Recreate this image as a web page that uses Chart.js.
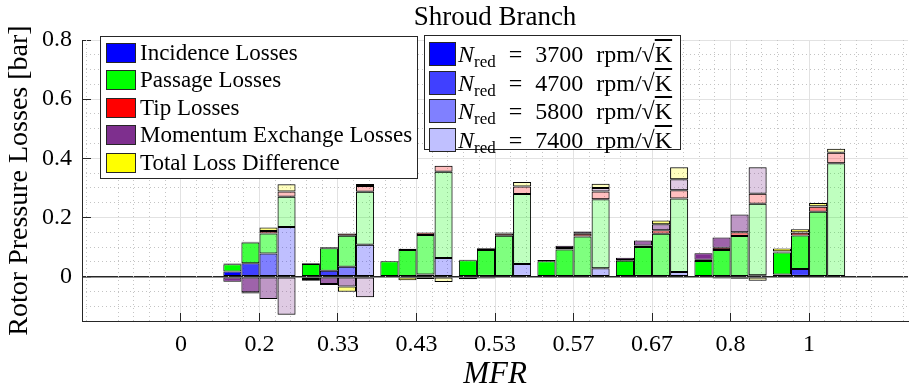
<!DOCTYPE html>
<html>
<head>
<meta charset="utf-8">
<script src="https://cdn.jsdelivr.net/npm/chart.js@4/dist/chart.umd.min.js"></script>
<style>
  body { margin: 0; background: #fff; }
  #wrap { position: relative; width: 911px; height: 390px; font-family: 'Liberation Serif', serif; }
  .box { position: absolute; background: #fff; border: 1px solid #262626; box-sizing: border-box; }
  .sw { position: absolute; border: 1px solid #262626; box-sizing: border-box; }
  .tx { position: absolute; font-size: 23px; line-height: 26px; white-space: nowrap; color: #000; }
  .tx sub { font-size: 17px; vertical-align: -5px; line-height: 0; }
  .n2 { font-size: 24px; word-spacing: 7px; }
  .ov { text-decoration: overline; }
</style>
</head>
<body>
<div id="wrap">
  <canvas id="grafico" width="911" height="390"></canvas>
</div>
<script>
// categorias (MFR) e velocidades
const categories = ['0', '0.2', '0.33', '0.43', '0.53', '0.57', '0.67', '0.8', '1'];
const speeds = ['3700', '4700', '5800', '7400'];
const components = ['Incidence Losses', 'Passage Losses', 'Tip Losses', 'Momentum Exchange Losses', 'Total Loss Difference'];
const yTicks = [0, 0.2, 0.4, 0.6, 0.8];
const yTickLabels = ['0', '0.2', '0.4', '0.6', '0.8'];

// N = 3700
const inc3700 = [0, 0.017, 0, 0, 0, 0, 0, 0, 0.007];
const pas3700 = [0, 0.025, 0.043, 0.052, 0.055, 0.052, 0.054, 0.053, 0.075];
const tip3700 = [0, 0.002, 0.002, 0.001, 0.002, 0, 0.002, 0.004, 0.002];
const mom3700 = [0, -0.017, -0.008, 0, 0, 0.004, 0.008, 0.022, 0.002];
const dif3700 = [0, 0, -0.006, 0, -0.009, 0, 0, 0, 0.009];
// N = 4700
const inc4700 = [0, 0.045, 0.02, 0, 0, 0, 0, 0, 0.026];
const pas4700 = [0, 0.07, 0.076, 0.09, 0.09, 0.092, 0.1, 0.09, 0.113];
const tip4700 = [0, 0.003, 0.003, 0.004, 0.006, 0.005, 0.005, 0.008, 0.009];
const mom4700 = [0, -0.053, -0.025, 0, 0, 0.007, 0.017, 0.034, 0.002];
const dif4700 = [0, -0.004, -0.003, -0.012, -0.006, 0, 0, -0.006, 0.01];
// N = 5800
const inc5800 = [0, 0.078, 0.033, 0.007, 0, 0, 0, 0, 0];
const pas5800 = [0, 0.068, 0.105, 0.134, 0.138, 0.136, 0.145, 0.137, 0.219];
const tip5800 = [0, 0.008, 0.008, 0.008, 0.008, 0.009, 0.012, 0.013, 0.017];
const mom5800 = [0, -0.076, -0.033, -0.008, 0.003, 0.008, 0.02, 0.06, 0.002];
const dif5800 = [0, 0.012, -0.018, 0, 0, 0, 0.013, -0.007, 0.011];
// N = 7400
const inc7400 = [0, 0.168, 0.108, 0.063, 0.043, 0.028, 0.016, 0.005, 0];
const pas7400 = [0, 0.102, 0.179, 0.292, 0.236, 0.234, 0.248, 0.241, 0.383];
const tip7400 = [0, 0.018, 0.019, 0.02, 0.026, 0.026, 0.028, 0.034, 0.036];
const mom7400 = [0, -0.129, -0.07, 0, 0, 0.012, 0.037, 0.09, 0];
const dif7400 = [0, 0.024, 0.007, -0.018, 0.015, 0.014, 0.041, -0.014, 0.013];

const series = [
  [inc3700, pas3700, tip3700, mom3700, dif3700],
  [inc4700, pas4700, tip4700, mom4700, dif4700],
  [inc5800, pas5800, tip5800, mom5800, dif5800],
  [inc7400, pas7400, tip7400, mom7400, dif7400]
];

const compRgb = ['0,0,255', '0,255,0', '255,0,0', '126,47,142', '255,255,0'];
const alphas = [1, 0.75, 0.5, 0.25];
const fonte = "'Liberation Serif', serif";

const datasets = [];
speeds.forEach((s, si) => {
  components.forEach((c, ci) => {
    datasets.push({
      label: c + ' ' + s,
      data: series[si][ci].map((v, i) => ({ x: i, y: v })),
      xAxisID: 'x',
      yAxisID: 'y',
      stack: 'n' + s,
      backgroundColor: 'rgba(' + compRgb[ci] + ',' + alphas[si] + ')',
      borderColor: '#000',
      borderWidth: 1,
      borderSkipped: false,
      categoryPercentage: 0.92,
      barPercentage: 1
    });
  });
});

const xMin = -1.26, xMax = 9.26;
const minorX = [];
for (let k = -6; k <= 46; k++) minorX.push(k * 0.2);
const minorY = [];
for (let k = -3; k <= 16; k++) minorY.push(k * 0.05);

const tickVal = c => (c.tick ? c.tick.value : NaN);
const ehInteiro = (v, passo) => Math.abs(v / passo - Math.round(v / passo)) < 1e-6;

// titulo centrado na area do grafico
const tituloPlugin = {
  id: 'tituloPlugin',
  afterDraw(chart) {
    const { ctx, chartArea } = chart;
    ctx.save();
    ctx.font = '27px ' + fonte;
    ctx.fillStyle = '#000';
    ctx.textAlign = 'center';
    ctx.textBaseline = 'middle';
    ctx.fillText('Shroud Branch', (chartArea.left + chartArea.right) / 2, 18);
    ctx.restore();
  }
};

const ctx = document.getElementById('grafico').getContext('2d');
const grafico = new Chart(ctx, {
  type: 'bar',
  data: { datasets: datasets },
  plugins: [tituloPlugin],
  options: {
    responsive: false,
    animation: false,
    layout: { padding: { top: 40, right: 3, left: 0, bottom: 0 } },
    plugins: {
      legend: { display: false },
      tooltip: { enabled: false }
    },
    scales: {
      x: {
        type: 'linear', position: 'bottom', min: xMin, max: xMax, offset: false,
        afterBuildTicks: a => { a.ticks = categories.map((c, i) => ({ value: i })); },
        afterFit: a => { a.height = 69; },
        ticks: {
          callback: v => categories[v],
          font: { family: fonte, size: 24 },
          color: '#000',
          padding: 17,
          maxRotation: 0,
          autoSkip: false
        },
        grid: { offset: false, color: '#e2e2e2', tickColor: '#262626', tickLength: -8, tickWidth: 1 },
        border: { color: '#262626', width: 1 },
        title: {
          display: true, text: 'MFR', color: '#000',
          font: { family: fonte, size: 31, style: 'italic', lineHeight: 1 },
          padding: { top: 0, bottom: 0 }
        }
      },
      y: {
        min: -0.15, max: 0.8,
        afterBuildTicks: a => { a.ticks = yTicks.map(v => ({ value: v })); },
        afterFit: a => { a.width = 82; },
        ticks: {
          callback: (v, i) => yTickLabels[i],
          font: { family: fonte, size: 24 },
          color: '#000',
          padding: 19
        },
        grid: {
          color: c => tickVal(c) === 0 ? '#262626' : '#e2e2e2',
          lineWidth: c => tickVal(c) === 0 ? 1.5 : 1,
          tickColor: '#262626', tickLength: -9, tickWidth: 1
        },
        border: { color: '#262626', width: 1 },
        title: {
          display: true, text: 'Rotor Pressure Losses [bar]', color: '#000',
          font: { family: fonte, size: 28 },
          padding: { top: 3, bottom: 0 }
        }
      },
      xm: {
        type: 'linear', position: 'bottom', min: xMin, max: xMax, offset: false,
        afterBuildTicks: a => { a.ticks = minorX.map(v => ({ value: v })); },
        afterFit: a => { a.height = 0; },
        ticks: { display: false },
        grid: {
          offset: false,
          drawTicks: false,
          color: c => ehInteiro(tickVal(c), 1) || isNaN(tickVal(c)) ? 'rgba(0,0,0,0)' : '#c4c4c4'
        },
        border: { display: false, dash: [1, 3] }
      },
      ym: {
        type: 'linear', position: 'left', min: -0.15, max: 0.8,
        afterBuildTicks: a => { a.ticks = minorY.map(v => ({ value: v })); },
        afterFit: a => { a.width = 0; },
        ticks: { display: false },
        grid: {
          drawTicks: false,
          color: c => ehInteiro(tickVal(c), 0.2) || isNaN(tickVal(c)) ? 'rgba(0,0,0,0)' : '#c4c4c4'
        },
        border: { display: false, dash: [1, 3] }
      }
    }
  }
});

// legendas (duas caixas, como no original)
const wrap = document.getElementById('wrap');
function caixa(l, t, w, h) {
  const d = document.createElement('div');
  d.className = 'box';
  d.style.left = l + 'px'; d.style.top = t + 'px';
  d.style.width = w + 'px'; d.style.height = h + 'px';
  wrap.appendChild(d);
}
function item(sx, sy, sw, sh, cor, tx, html, cls) {
  const s = document.createElement('div');
  s.className = 'sw';
  s.style.left = sx + 'px'; s.style.top = sy + 'px';
  s.style.width = sw + 'px'; s.style.height = sh + 'px';
  s.style.background = cor;
  wrap.appendChild(s);
  const t = document.createElement('div');
  t.className = 'tx' + (cls ? ' ' + cls : '');
  t.style.left = tx + 'px'; t.style.top = (sy + sh / 2 - 13) + 'px';
  t.innerHTML = html;
  wrap.appendChild(t);
}

caixa(100, 36, 318, 143);
components.forEach((c, ci) => {
  item(106, 43 + ci * 27.4, 30, 20, 'rgb(' + compRgb[ci] + ')', 140, c);
});

caixa(424, 35, 257, 115);
const blues = ['#0000ff', '#4040ff', '#8080ff', '#c0c0ff'];
speeds.forEach((s, si) => {
  item(429, 42 + si * 28.7, 27, 24, blues[si], 458,
    '<i>N</i><sub>red</sub> = ' + s + ' rpm/\u221A<span class="ov">K</span>', 'n2');
});
</script>
</body>
</html>
